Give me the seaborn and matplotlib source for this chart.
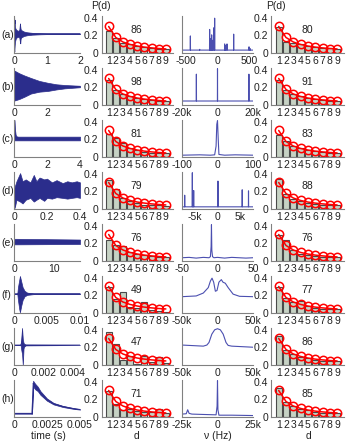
import numpy as np
import pandas as pd
import matplotlib
matplotlib.use("Agg")
import matplotlib.pyplot as plt
import seaborn as sns

sns.set_theme(style="white")
plt.rcParams['font.family'] = ['Liberation Sans', 'DejaVu Sans']

# ---------------- data ----------------
digits = [1, 2, 3, 4, 5, 6, 7, 8, 9]
benford = [0.301, 0.176, 0.125, 0.097, 0.079, 0.067, 0.058, 0.051, 0.046]
row_tags = ["(a)", "(b)", "(c)", "(d)", "(e)", "(f)", "(g)", "(h)"]

# digit distributions of the time signals (column 2)
time_digits = [
    [0.25, 0.17, 0.11, 0.10, 0.08, 0.07, 0.06, 0.05, 0.04],
    [0.28, 0.17, 0.12, 0.10, 0.08, 0.07, 0.06, 0.05, 0.05],
    [0.26, 0.22, 0.16, 0.10, 0.08, 0.06, 0.05, 0.04, 0.04],
    [0.33, 0.23, 0.12, 0.09, 0.07, 0.05, 0.04, 0.04, 0.03],
    [0.24, 0.18, 0.17, 0.10, 0.08, 0.07, 0.06, 0.05, 0.05],
    [0.29, 0.16, 0.24, 0.07, 0.06, 0.12, 0.03, 0.02, 0.01],
    [0.37, 0.24, 0.06, 0.10, 0.01, 0.10, 0.03, 0.09, 0.02],
    [0.29, 0.15, 0.08, 0.09, 0.07, 0.06, 0.06, 0.09, 0.05],
]
time_scores = [86, 98, 81, 79, 76, 49, 47, 71]

# digit distributions of the spectra (column 4)
freq_digits = [
    [0.29, 0.13, 0.11, 0.10, 0.08, 0.07, 0.06, 0.06, 0.05],
    [0.28, 0.17, 0.12, 0.10, 0.08, 0.07, 0.06, 0.05, 0.05],
    [0.25, 0.18, 0.12, 0.10, 0.08, 0.07, 0.06, 0.05, 0.05],
    [0.34, 0.17, 0.11, 0.09, 0.07, 0.06, 0.05, 0.05, 0.04],
    [0.29, 0.24, 0.12, 0.08, 0.07, 0.06, 0.05, 0.05, 0.04],
    [0.30, 0.17, 0.12, 0.14, 0.08, 0.06, 0.05, 0.04, 0.04],
    [0.33, 0.17, 0.12, 0.09, 0.08, 0.06, 0.05, 0.05, 0.04],
    [0.33, 0.17, 0.12, 0.09, 0.08, 0.06, 0.05, 0.05, 0.04],
]
freq_scores = [80, 91, 83, 88, 76, 77, 86, 85]

# time signals: envelope (time, upper, lower), normalised axis units
sig_a_t = [0, 0.005, 0.01, 0.02, 0.03, 0.05, 0.08, 0.12, 0.16, 0.18, 0.19, 0.2,
           0.22, 0.26, 0.3, 0.4, 0.55, 0.8, 1.0, 2.0]
sig_a_u = [0.52, 0.97, 0.8, 0.9, 0.7, 0.65, 0.62, 0.6, 0.62, 0.8, 0.72, 0.65,
           0.62, 0.6, 0.58, 0.56, 0.545, 0.535, 0.53, 0.53]
sig_a_l = [0.52, 0.1, 0.04, 0.2, 0.3, 0.38, 0.42, 0.44, 0.42, 0.3, 0.26, 0.38,
           0.42, 0.44, 0.46, 0.48, 0.495, 0.505, 0.51, 0.51]

sig_b_t = [0, 0.02, 0.3, 0.6, 1.0, 1.5, 2.0, 2.5, 3.0, 3.9]
sig_b_u = [0.5, 0.93, 0.86, 0.8, 0.73, 0.65, 0.6, 0.56, 0.54, 0.52]
sig_b_l = [0.5, 0.12, 0.16, 0.22, 0.31, 0.36, 0.38, 0.42, 0.45, 0.48]

sig_c_t = [0, 0.03, 0.06, 0.1, 0.15, 0.25, 4.0]
sig_c_u = [0.5, 1.0, 0.75, 0.6, 0.56, 0.55, 0.55]
sig_c_l = [0.45, 0.45, 0.45, 0.45, 0.45, 0.45, 0.45]

sig_d_t = [0, 0.004, 0.015, 0.037, 0.052, 0.071, 0.099, 0.12, 0.136, 0.155, 0.183,
           0.2, 0.23, 0.258, 0.295, 0.323, 0.35, 0.38, 0.4]
sig_d_u = [0.5, 0.6, 0.75, 0.97, 0.75, 0.8, 0.72, 0.92, 0.75, 0.85, 0.8,
           0.82, 0.72, 0.78, 0.7, 0.75, 0.72, 0.75, 0.72]
sig_d_l = [0.5, 0.03, 0.25, 0.2, 0.15, 0.25, 0.3, 0.2, 0.25, 0.3, 0.22,
           0.3, 0.28, 0.32, 0.3, 0.28, 0.3, 0.32, 0.3]

sig_e_t = [0, 0.2, 16.5]
sig_e_u = [0.58, 0.6, 0.58]
sig_e_l = [0.46, 0.45, 0.46]

sig_f_t = [0, 0.0005, 0.0006, 0.0008, 0.0009, 0.0011, 0.0013, 0.0016, 0.002, 0.003, 0.01]
sig_f_u = [0.52, 0.52, 0.7, 0.9, 1.0, 0.85, 0.7, 0.6, 0.55, 0.53, 0.53]
sig_f_l = [0.52, 0.52, 0.35, 0.1, 0.02, 0.2, 0.35, 0.45, 0.49, 0.51, 0.51]

sig_g_t = [0, 0.00045, 0.0005, 0.00055, 0.0006, 0.00065, 0.0007, 0.0008, 0.0045]
sig_g_u = [0.54, 0.54, 0.75, 1.0, 0.7, 0.6, 0.57, 0.55, 0.54]
sig_g_l = [0.54, 0.54, 0.4, 0.3, 0.0, 0.45, 0.5, 0.53, 0.54]

sig_h_t = [0, 0.0013, 0.00135, 0.0014, 0.00145, 0.0015, 0.0016, 0.0018, 0.002,
           0.0025, 0.003, 0.0037, 0.0045, 0.005]
sig_h_u = [0.11, 0.11, 0.1, 0.6, 0.98, 0.95, 0.9, 0.82, 0.7, 0.5, 0.38, 0.3, 0.24, 0.21]
sig_h_l = [0.09, 0.09, 0.08, 0.3, 0.85, 0.8, 0.75, 0.7, 0.6, 0.44, 0.34, 0.27, 0.22, 0.2]

signals = [(sig_a_t, sig_a_u, sig_a_l), (sig_b_t, sig_b_u, sig_b_l),
           (sig_c_t, sig_c_u, sig_c_l), (sig_d_t, sig_d_u, sig_d_l),
           (sig_e_t, sig_e_u, sig_e_l), (sig_f_t, sig_f_u, sig_f_l),
           (sig_g_t, sig_g_u, sig_g_l), (sig_h_t, sig_h_u, sig_h_l)]

time_xlim = [2, 3.9, 4, 0.4, 16.5, 0.01, 0.0045, 0.005]
time_ticks = [[0, 1, 2], [0, 2], [0, 2, 4], [0, 0.2, 0.4], [0, 10],
              [0, 0.005, 0.01], [0, 0.002, 0.004], [0, 0.0025, 0.005]]
time_ticklabels = [["0", "1", "2"], ["0", "2"], ["0", "2", "4"], ["0", "0.2", "0.4"],
                   ["0", "10"], ["0", "0.005", "0.01"], ["0", "0.002", "0.004"],
                   ["0", "0.0025", "0.005"]]

# spectra: spike lines (a, b, d) and continuous curves (c, e, f, g, h)
spec_a_base = 0.08
spec_a_f = [-428, -281, -124, -110, -92, -75, -55, -45, 113, 130, 150, 255, 497, 515]
spec_a_h = [0.47, 0.1, 0.65, 0.4, 0.5, 0.35, 0.7, 0.96, 0.25, 0.2, 0.25, 0.52, 0.17, 0.12]
spec_b_base = 0.11
spec_b_f = [-11900, 0, 17700]
spec_b_h = [0.85, 1.0, 0.85]
spec_d_base = 0.06
spec_d_f = [-7300, -5600, -5300, 100, 5500, 6900]
spec_d_h = [0.38, 1.0, 0.51, 0.77, 0.53, 0.5]

spec_c_f = [-100, -50, -20, -8, -4, -2, 0, 2, 4, 20, 50, 100]
spec_c_a = [0.05, 0.06, 0.05, 0.06, 0.3, 0.9, 1.0, 0.5, 0.07, 0.05, 0.06, 0.05]
spec_e_f = [-50, -40, -30, -20, -12, -10, -9, -8.5, -8, -7, -5, 0, 10, 20, 30, 40, 50]
spec_e_a = [0.09, 0.1, 0.08, 0.1, 0.09, 0.12, 0.4, 1.0, 0.3, 0.12, 0.09, 0.1, 0.08, 0.1, 0.09, 0.08, 0.09]
spec_f_f = [-50000, -30000, -20000, -13000, -10000, -7700, -5400, -3000, -700, 2000,
            5400, 7700, 11000, 15000, 22000, 31000, 50000]
spec_f_a = [0.45, 0.47, 0.55, 0.7, 0.88, 0.96, 0.85, 0.6, 0.62, 0.85,
            0.92, 0.85, 0.82, 0.7, 0.52, 0.46, 0.45]
spec_g_f = [-50000, -20000, -15000, -12000, -8000, -4000, 0, 4000, 8000, 12000, 15000, 20000, 50000]
spec_g_a = [0.55, 0.52, 0.55, 0.62, 0.85, 0.97, 1.0, 0.97, 0.85, 0.62, 0.54, 0.52, 0.49]
spec_h_f = [-25000, -22000, -21000, -20000, -18000, -10000, -1000, -300, 0, 300, 1000, 10000, 25000]
spec_h_a = [0.08, 0.09, 0.2, 0.1, 0.08, 0.07, 0.06, 0.3, 1.0, 0.2, 0.05, 0.05, 0.04]

freq_xlim = [560, 20000, 100, 7900, 50, 50000, 50000, 25000]
freq_ticks = [[-500, 0, 500], [-20000, 0, 20000], [-100, 0, 100], [-5000, 0, 5000],
              [-50, 0, 50], [-50000, 0, 50000], [-50000, 0, 50000], [-25000, 0, 25000]]
freq_ticklabels = [["-500", "0", "500"], ["-20k", "0", "20k"], ["-100", "0", "100"],
                   ["-5k", "0", "5k"], ["-50", "0", "50"], ["-50k", "0", "50k"],
                   ["-50k", "0", "50k"], ["-25k", "0", "25k"]]

# ---------------- style ----------------
W, H = 346, 444
FS = 7.5
SPINE = "#808080"
NAVY = "#2b2d8c"
SPEC = "#4b4fb0"
BARFILL = "#c6d2c4"
BAREDGE = "#4a4a4a"
TXT = "#222222"

fig = plt.figure(figsize=(W / 100, H / 100), dpi=100)
fig.patch.set_facecolor("white")

col_x = [(14, 66), (101.5, 71.5), (182, 71), (271.4, 73)]
row_top0, row_pitch, row_h = 16, 52, 37


def mk_ax(col, row):
    l, w = col_x[col]
    t = row_top0 + row_pitch * row
    return fig.add_axes([l / W, 1 - (t + row_h) / H, w / W, row_h / H])


def style(ax):
    for s in ["top", "right"]:
        ax.spines[s].set_visible(False)
    for s in ["left", "bottom"]:
        ax.spines[s].set_color(SPINE)
        ax.spines[s].set_linewidth(0.8)
    ax.tick_params(axis="both", length=0, pad=2.5, labelsize=FS, colors=TXT)
    ax.set_facecolor("white")
    ax.set_xlabel("")
    ax.set_ylabel("")


def spike_series(fs, hs, base, lo, hi, delta):
    xs, ys = [lo], [base]
    for f, h in zip(fs, hs):
        xs += [f - delta, f, f + delta]
        ys += [base, h, base]
    xs.append(hi)
    ys.append(base)
    return xs, ys


def bar_panel(ax, vals, score):
    df = pd.DataFrame({"d": digits, "p": vals})
    sns.barplot(data=df, x="d", y="p", native_scale=True, color=BARFILL,
                edgecolor=BAREDGE, linewidth=0.8, width=0.85, saturation=1, ax=ax)
    for p in ax.patches:
        p.set_facecolor(BARFILL)
    sns.lineplot(x=digits, y=benford, color="red", linewidth=1.1, marker="o",
                 markersize=6, markerfacecolor="none", markeredgecolor="red",
                 markeredgewidth=1.1, ax=ax)
    ax.set_xlim(0, 10)
    ax.set_ylim(0, 0.42)
    ax.set_xticks(digits)
    ax.set_xticklabels([str(d) for d in digits])
    ax.set_yticks([0, 0.2, 0.4])
    ax.set_yticklabels(["0", "0.2", "0.4"])
    ax.text(4.9, 0.26, str(score), ha="center", va="center", fontsize=FS, color=TXT)
    style(ax)


for r in range(8):
    # column 1: time signal
    ax = mk_ax(0, r)
    t, u, lo = signals[r]
    ax.fill_between(t, lo, u, color=NAVY, linewidth=0.5, edgecolor=NAVY)
    sns.lineplot(x=t, y=[(a + b) / 2 for a, b in zip(u, lo)], color=NAVY,
                 linewidth=0.6, estimator=None, sort=False, ax=ax)
    ax.set_xlim(0, time_xlim[r])
    ax.set_ylim(0, 1.0)
    ax.set_xticks(time_ticks[r])
    ax.set_xticklabels(time_ticklabels[r])
    ax.set_yticks([])
    style(ax)
    fig.text(1 / W, 1 - (row_top0 + row_pitch * r + row_h / 2) / H, row_tags[r],
             fontsize=FS, color=TXT, ha="left", va="center")

    # column 2: digit distribution of signal
    bar_panel(mk_ax(1, r), time_digits[r], time_scores[r])

    # column 3: spectrum
    ax = mk_ax(2, r)
    lim = freq_xlim[r]
    if r == 0:
        xs, ys = spike_series(spec_a_f, spec_a_h, spec_a_base, -lim, lim, 2)
    elif r == 1:
        xs, ys = spike_series(spec_b_f, spec_b_h, spec_b_base, -lim, lim, 60)
    elif r == 3:
        xs, ys = spike_series(spec_d_f, spec_d_h, spec_d_base, -lim, lim, 25)
    else:
        xs, ys = {2: (spec_c_f, spec_c_a), 4: (spec_e_f, spec_e_a),
                  5: (spec_f_f, spec_f_a), 6: (spec_g_f, spec_g_a),
                  7: (spec_h_f, spec_h_a)}[r]
    sns.lineplot(x=xs, y=ys, color=SPEC, linewidth=0.8, estimator=None, sort=False, ax=ax)
    ax.set_xlim(-lim, lim)
    ax.set_ylim(0, 1.02)
    ax.set_xticks(freq_ticks[r])
    ax.set_xticklabels(freq_ticklabels[r])
    ax.set_yticks([])
    style(ax)

    # column 4: digit distribution of spectrum
    bar_panel(mk_ax(3, r), freq_digits[r], freq_scores[r])

# headers and axis titles
fig.text(101 / W, 1 - 6 / H, "P(d)", fontsize=FS, color=TXT, ha="center", va="center")
fig.text(276 / W, 1 - 6 / H, "P(d)", fontsize=FS, color=TXT, ha="center", va="center")
fig.text(48 / W, 1 - 436 / H, "time (s)", fontsize=FS, color=TXT, ha="center", va="center")
fig.text(137 / W, 1 - 436 / H, "d", fontsize=FS, color=TXT, ha="center", va="center")
fig.text(218 / W, 1 - 436 / H, "ν (Hz)", fontsize=FS, color=TXT, ha="center", va="center")
fig.text(308 / W, 1 - 436 / H, "d", fontsize=FS, color=TXT, ha="center", va="center")

fig.savefig("out.png", dpi=100, facecolor="white")
